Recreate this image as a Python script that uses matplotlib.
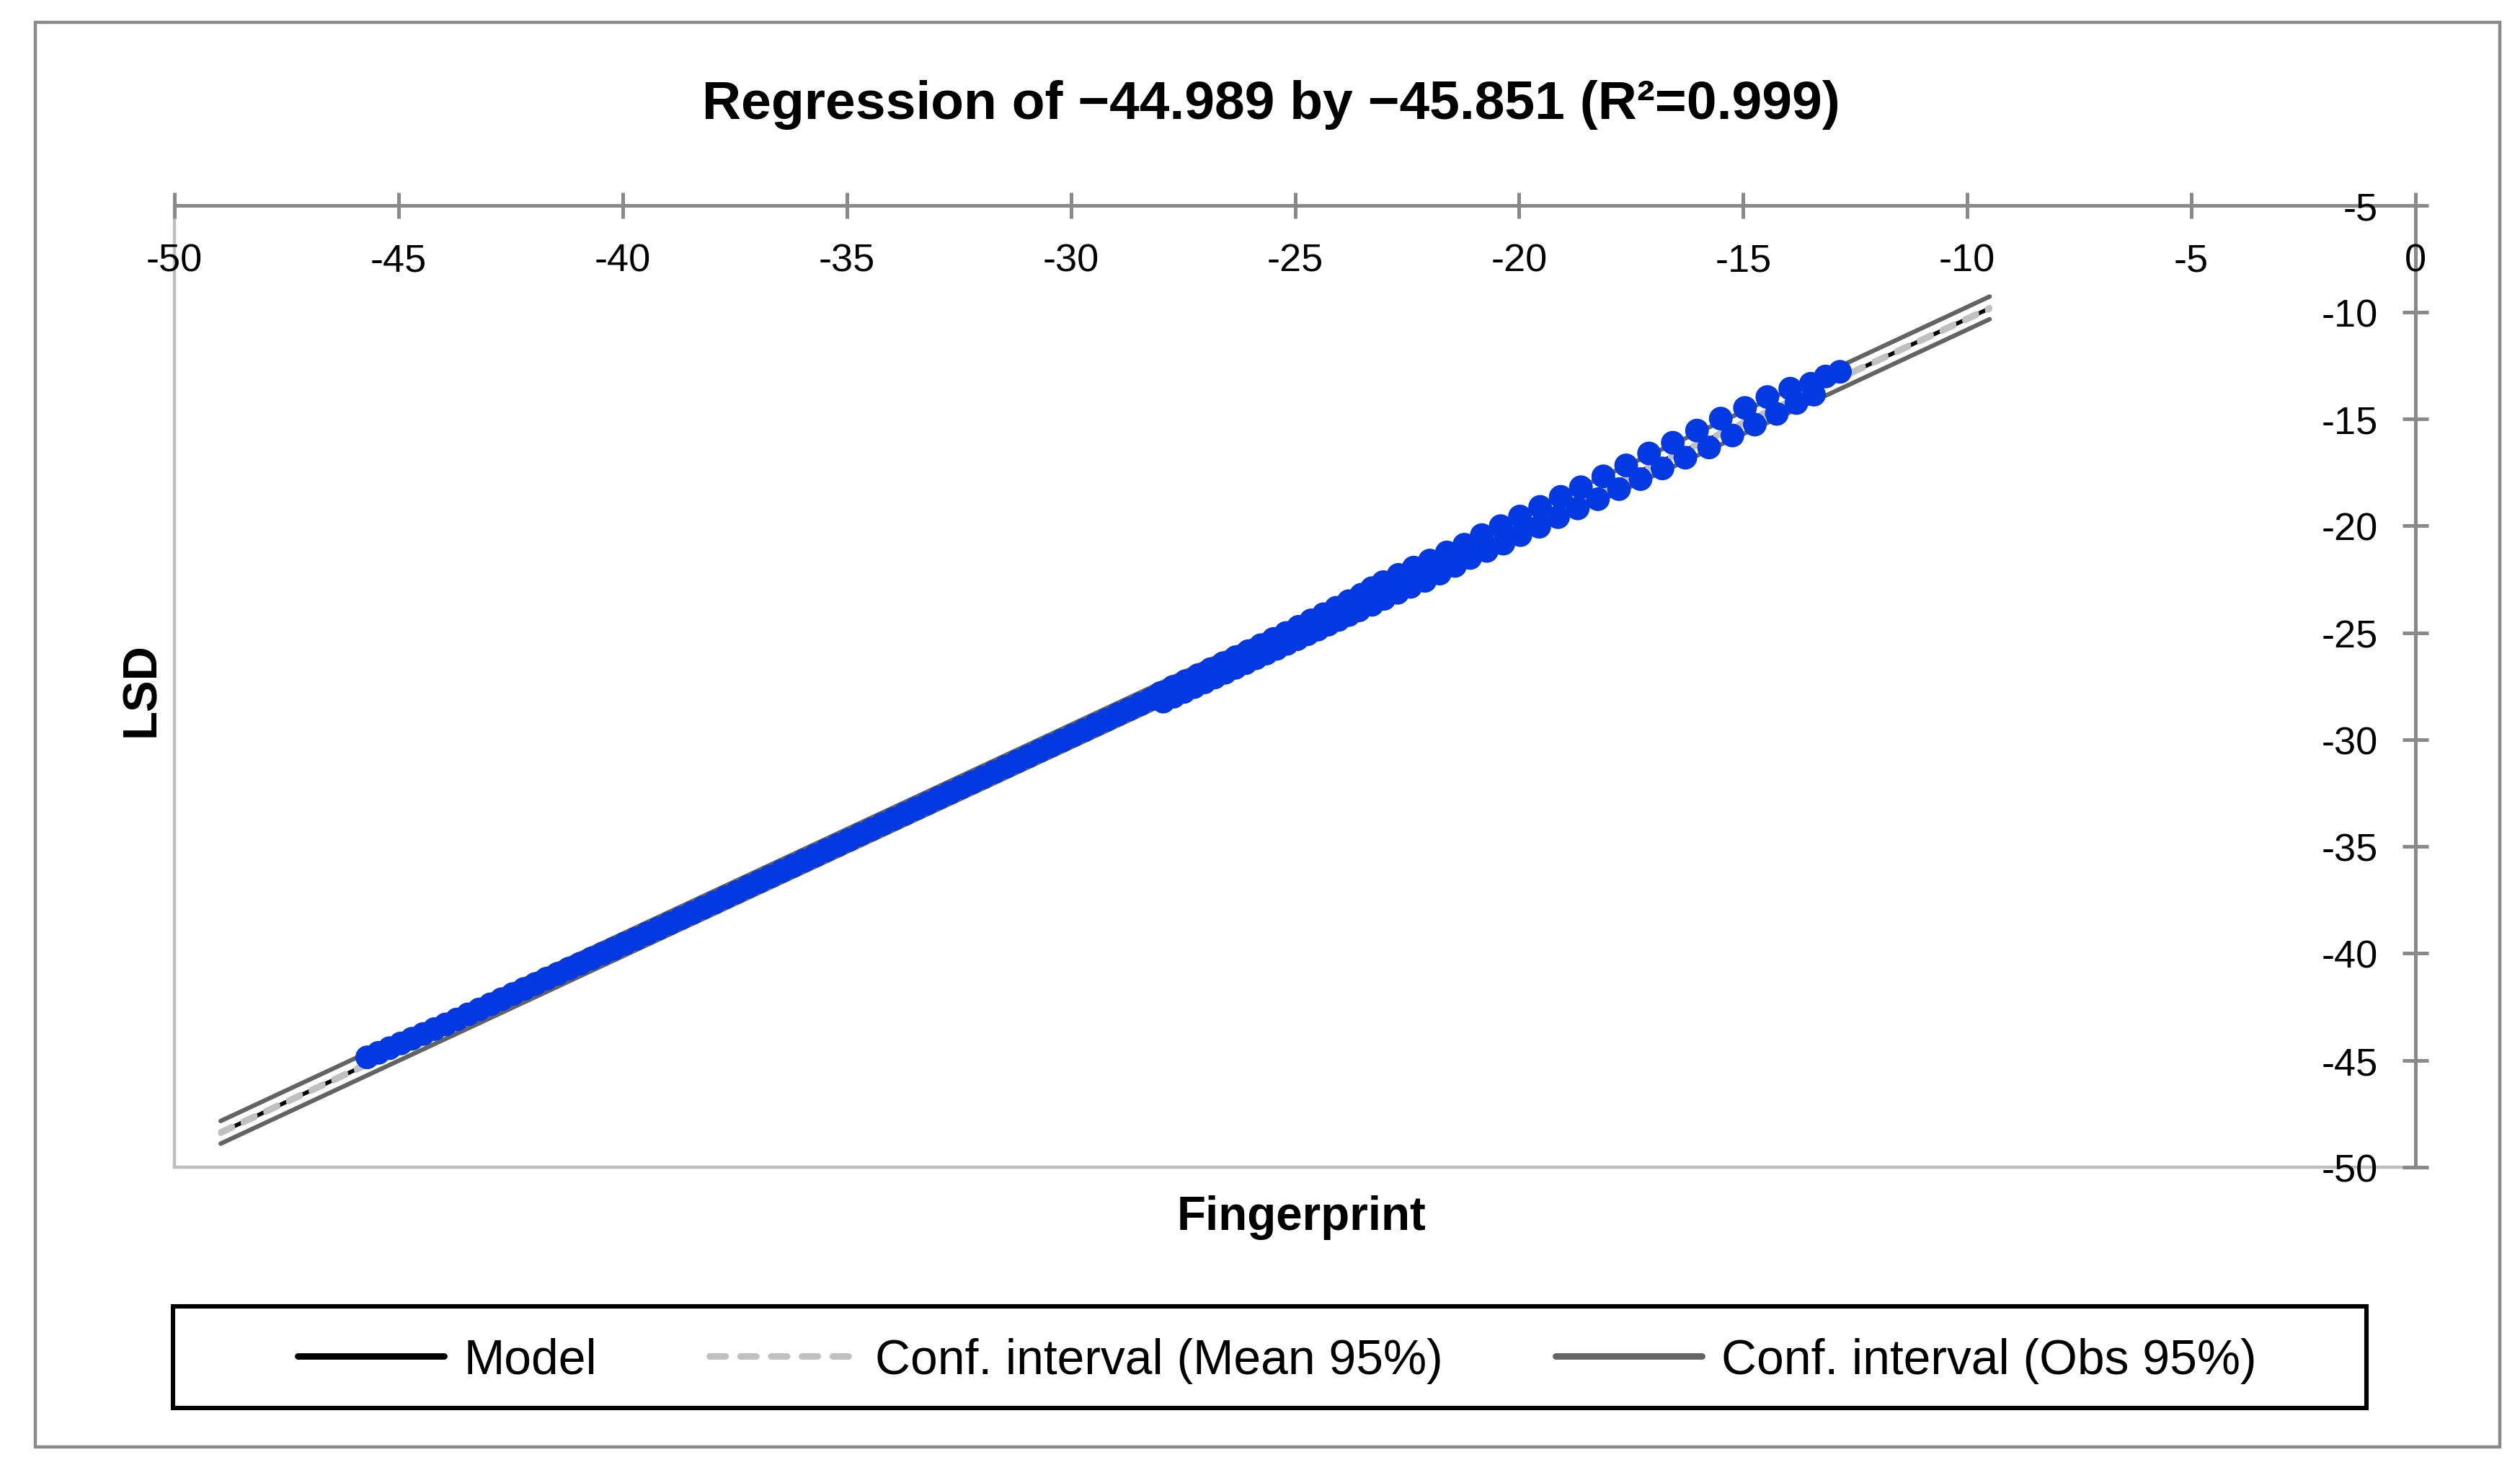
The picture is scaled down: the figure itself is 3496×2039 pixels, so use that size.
import matplotlib
matplotlib.use('Agg')
import matplotlib.pyplot as plt
from matplotlib.patches import Rectangle

W, H = 3496, 2040
DPI = 200

plt.rcParams['font.family'] = ['Liberation Sans', 'DejaVu Sans']
plt.rcParams['axes.unicode_minus'] = False

# observations read off the chart
# left part: dense run of points sitting on the line
dense_x = [-45.70, -45.45, -45.20, -44.95, -44.70, -44.45, -44.20, -43.95, -43.70, -43.45,
           -43.20, -42.95, -42.70, -42.45, -42.20, -41.95, -41.70, -41.45, -41.20, -40.95,
           -40.70, -40.45, -40.20, -39.95, -39.70, -39.45, -39.20, -38.95, -38.70, -38.45,
           -38.20, -37.95, -37.70, -37.45, -37.20, -36.95, -36.70, -36.45, -36.20, -35.95,
           -35.70, -35.45, -35.20, -34.95, -34.70, -34.45, -34.20, -33.95, -33.70, -33.45,
           -33.20, -32.95, -32.70, -32.45, -32.20, -31.95, -31.70, -31.45, -31.20, -30.95,
           -30.70, -30.45, -30.20, -29.95, -29.70, -29.45, -29.20, -28.95, -28.70, -28.45,
           -28.20]
dense_y = [-44.86, -44.65, -44.43, -44.21, -43.99, -43.77, -43.54, -43.32, -43.09, -42.85,
           -42.62, -42.38, -42.14, -41.90, -41.66, -41.43, -41.18, -40.95, -40.71, -40.48,
           -40.24, -40.01, -39.78, -39.54, -39.31, -39.06, -38.83, -38.59, -38.35, -38.11,
           -37.86, -37.62, -37.37, -37.13, -36.88, -36.64, -36.40, -36.15, -35.91, -35.66,
           -35.42, -35.17, -34.93, -34.69, -34.44, -34.20, -33.95, -33.71, -33.47, -33.22,
           -32.98, -32.73, -32.49, -32.24, -32.00, -31.76, -31.51, -31.27, -31.02, -30.78,
           -30.53, -30.29, -30.05, -29.80, -29.56, -29.31, -29.07, -28.82, -28.58, -28.34,
           -28.09]

# right part: two interleaved rows, one above and one below the line
upper_x = [-28.00, -27.72, -27.44, -27.16, -26.88, -26.60, -26.32, -26.04, -25.76, -25.48,
           -25.20, -24.92, -24.64, -24.36, -24.08, -23.80, -23.52, -23.28, -23.03, -22.69,
           -22.35, -21.99, -21.61, -21.22, -20.83, -20.41, -19.98, -19.53, -19.07, -18.62,
           -18.12, -17.61, -17.10, -16.57, -16.03, -15.50, -14.96, -14.46, -13.95, -13.49,
           -13.16, -12.84]
upper_y = [-27.82, -27.53, -27.26, -26.98, -26.70, -26.42, -26.14, -25.86, -25.58, -25.29,
           -25.01, -24.72, -24.42, -24.13, -23.83, -23.52, -23.22, -22.91, -22.63, -22.29,
           -21.95, -21.62, -21.24, -20.88, -20.43, -20.01, -19.56, -19.11, -18.64, -18.19,
           -17.68, -17.17, -16.61, -16.11, -15.54, -14.98, -14.48, -13.97, -13.58, -13.35,
           -13.01, -12.79]
lower_x = [-27.94, -27.71, -27.48, -27.25, -27.02, -26.79, -26.56, -26.33, -26.10, -25.87,
           -25.64, -25.41, -25.18, -24.95, -24.72, -24.49, -24.26, -24.03, -23.80, -23.57,
           -23.28, -23.01, -22.71, -22.42, -22.10, -21.77, -21.43, -21.09, -20.72, -20.35,
           -19.97, -19.55, -19.13, -18.69, -18.24, -17.77, -17.29, -16.80, -16.29, -15.76,
           -15.24, -14.74, -14.25, -13.81, -13.42]
lower_y = [-28.22, -27.99, -27.77, -27.54, -27.32, -27.09, -26.87, -26.64, -26.42, -26.19,
           -25.97, -25.75, -25.52, -25.30, -25.07, -24.85, -24.62, -24.40, -24.17, -23.95,
           -23.69, -23.41, -23.13, -22.85, -22.57, -22.23, -21.87, -21.50, -21.17, -20.83,
           -20.43, -20.04, -19.59, -19.18, -18.75, -18.28, -17.81, -17.31, -16.81, -16.33,
           -15.77, -15.26, -14.76, -14.25, -13.86]

# fitted line and 95% bands (end points)
fit_x = [-48.97, -9.50]
fit_y = [-48.38, -9.82]
mean_lo = [-48.42, -9.86]
mean_hi = [-48.34, -9.78]
obs_lo = [-48.90, -10.33]
obs_hi = [-47.84, -9.27]

x_ticks = [-50, -45, -40, -35, -30, -25, -20, -15, -10, -5, 0]
y_ticks = [-50, -45, -40, -35, -30, -25, -20, -15, -10, -5]

title = 'Regression of \u221244.989 by \u221245.851 (R\u00b2=0.999)'
labels = ['Model', 'Conf. interval (Mean 95%)', 'Conf. interval (Obs 95%)']

axis_grey = '#898989'
blue = '#0339e3'

fig = plt.figure(figsize=(W / DPI, H / DPI), dpi=DPI)
fig.patch.set_facecolor('white')

# outer chart frame
fig.patches.append(Rectangle((49 / W, 1 - 2008 / H), (3468 - 49) / W, (2008 - 32) / H,
                             transform=fig.transFigure, fill=False,
                             edgecolor=axis_grey, lw=1.6))

ax = fig.add_axes([242 / W, 1 - 1620 / H, (3351 - 242) / W, (1620 - 285.7) / H])
ax.set_xlim(-50, 0)
ax.set_ylim(-50, -5)

# plot area border (left and bottom)
ax.axvline(-50, color='#bfbfbf', lw=1.6, clip_on=False, zorder=1)
ax.axhline(-50, color='#bfbfbf', lw=1.6, clip_on=False, zorder=1)

# axes cross at the top right
ax.spines['bottom'].set_position(('data', -5))
ax.spines['left'].set_position(('data', 0))
ax.spines['top'].set_visible(False)
ax.spines['right'].set_visible(False)
for s in ['bottom', 'left']:
    ax.spines[s].set_color(axis_grey)
    ax.spines[s].set_linewidth(1.8)
    ax.spines[s].set_zorder(1.5)

ax.set_xticks(x_ticks)
ax.set_xticklabels([str(t) for t in x_ticks])
ax.set_yticks(y_ticks)
ax.set_yticklabels([str(t) for t in y_ticks])
ax.tick_params(axis='both', direction='inout', length=13.3, width=1.8,
               color=axis_grey, labelsize=19.5, labelcolor='black')
ax.tick_params(axis='x', pad=12)
ax.tick_params(axis='y', pad=12)

l_obs, = ax.plot(fit_x, obs_hi, color='#636363', lw=2.2, solid_capstyle='round', zorder=2)
ax.plot(fit_x, obs_lo, color='#636363', lw=2.2, solid_capstyle='round', zorder=2)
l_fit, = ax.plot(fit_x, fit_y, color='black', lw=2.0, solid_capstyle='round', zorder=2.1)
l_mean, = ax.plot(fit_x, mean_hi, color='#c0c0c0', lw=2.6, ls=(0, (2.5, 2.3)),
                  dash_capstyle='round', zorder=2.2)
ax.plot(fit_x, mean_lo, color='#c0c0c0', lw=2.6, ls=(0, (2.5, 2.3)),
        dash_capstyle='round', zorder=2.2)

for xs, ys in [(dense_x, dense_y), (upper_x, upper_y), (lower_x, lower_y)]:
    ax.scatter(xs, ys, s=140, color=blue, edgecolors='none', zorder=3)

ax.set_xlabel('Fingerprint', fontsize=23.6, fontweight='bold', va='baseline')
ax.xaxis.set_label_coords(0.503, (1620 - 1706) / (1620 - 285.7))
ax.set_ylabel('LSD', fontsize=23.6, fontweight='bold', va='center', ha='center')
ax.yaxis.set_label_coords((197 - 242) / (3351 - 242), 0.497)

fig.text(1763 / W, 1 - 165 / H, title, ha='center', va='baseline',
         fontsize=27, fontweight='bold')

# legend
leg = fig.legend([l_fit, l_mean, l_obs], labels, loc='center',
                 bbox_to_anchor=(1772 / W, 1 - 1888 / H), ncol=3, frameon=False,
                 fontsize=24.4, handlelength=3.0, handletextpad=0.4,
                 columnspacing=2.3, borderpad=0)
for ln in leg.get_lines():
    ln.set_linewidth(3.2)
fig.patches.append(Rectangle((240 / W, 1 - 1954 / H), (3283 - 240) / W, (1954 - 1813) / H,
                             transform=fig.transFigure, fill=False,
                             edgecolor='black', lw=2.2))

fig.savefig('out.png', dpi=DPI, facecolor='white')
